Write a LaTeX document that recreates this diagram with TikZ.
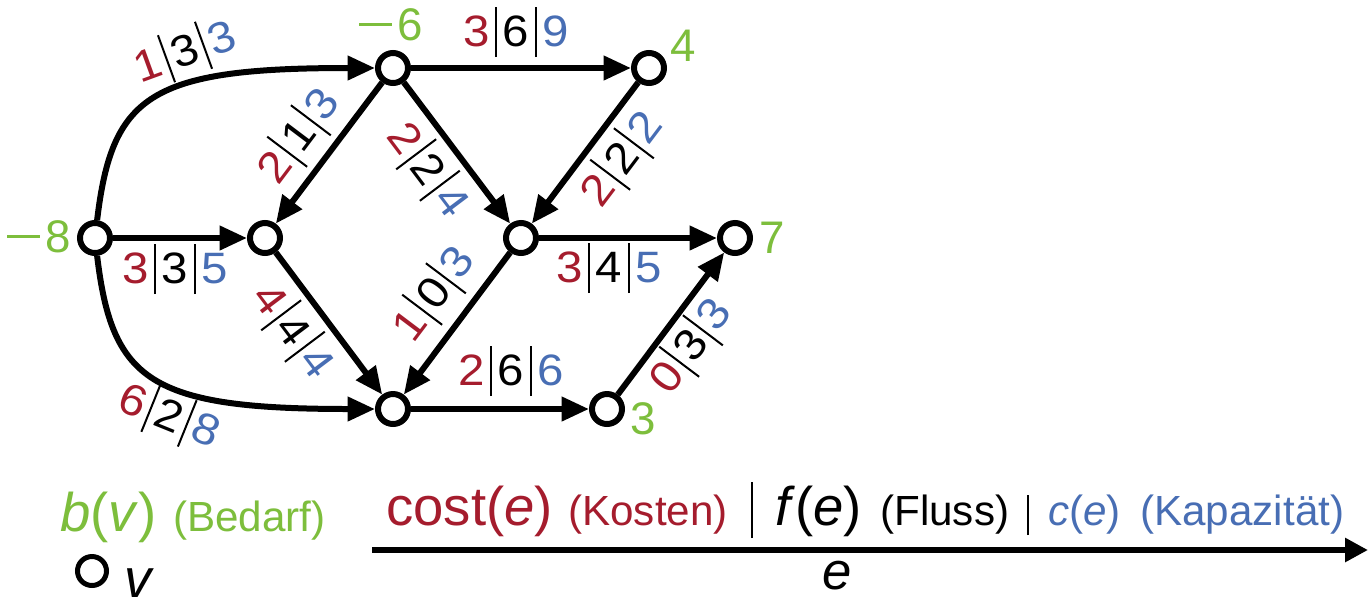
\documentclass[tikz,border=0pt]{standalone}
\usepackage{fontspec}
\setmainfont{Liberation Sans}
\newfontfamily\lf[FakeStretch=1.08]{Liberation Sans}
\usetikzlibrary{arrows.meta}
\definecolor{cred}{RGB}{165,28,45}
\definecolor{cgreen}{RGB}{125,190,60}
\definecolor{cblue}{RGB}{72,110,180}
\newcommand{\sepbar}{\kern0.11cm\rule[-0.22cm]{0.04cm}{1.0cm}\kern0.11cm}
\newcommand{\elab}[3]{{\color{cred}#1}\sepbar #2\sepbar{\color{cblue}#3}}
\newcommand{\mns}{\rule[0.33em]{0.72em}{0.065em}\kern0.12em}
\begin{document}
\begin{tikzpicture}[x=0.02cm,y=-0.02cm,
 vtx/.style={circle,draw,line width=0.12cm,fill=white,minimum size=0.6cm,inner sep=0pt},
 arc/.style={line width=0.12cm,-{Triangle[length=0.55cm,width=0.47cm]}},
 elabel/.style={font=\lf\fontsize{25}{29}\selectfont,inner sep=0pt},
 dem/.style={text=cgreen,font=\fontsize{26}{30}\selectfont,inner sep=0pt},
 bigtxt/.style={font=\fontsize{31}{36}\selectfont,inner sep=0pt,anchor=base west},
 smtxt/.style={font=\fontsize{24}{28}\selectfont,inner sep=0pt,anchor=base west}]
\fill[white] (0,0) rectangle (1368,596);
\useasboundingbox (0,0) rectangle (1368,596);
% vertices
\node[vtx] (s) at (95,238) {};
\node[vtx] (a) at (393,68) {};
\node[vtx] (d) at (649,68) {};
\node[vtx] (b) at (265,238) {};
\node[vtx] (c) at (521,238) {};
\node[vtx] (t) at (735,238) {};
\node[vtx] (f) at (393,409) {};
\node[vtx] (g) at (607,409) {};
% edges
\draw[arc] (s) .. controls (112,95) and (150,68) .. (a);
\draw[arc] (s) -- (b);
\draw[arc] (s) .. controls (112,381) and (150,409) .. (f);
\draw[arc] (a) -- (d);
\draw[arc] (a) -- (b);
\draw[arc] (a) -- (c);
\draw[arc] (d) -- (c);
\draw[arc] (b) -- (f);
\draw[arc] (c) -- (t);
\draw[arc] (c) -- (f);
\draw[arc] (f) -- (g);
\draw[arc] (g) -- (t);
% edge labels
\node[elabel,rotate=20] (lsa) at (185,52) {\elab{1}{3}{3}};
\node[elabel,rotate=53] (lab) at (299,136) {\elab{2}{1}{3}};
\node[elabel] (lsb) at (175,269) {\elab{3}{3}{5}};
\node[elabel] (lad) at (516,32) {\elab{3}{6}{9}};
\node[elabel,rotate=-53] (lac) at (428,170) {\elab{2}{2}{4}};
\node[elabel,rotate=53] (ldc) at (622,159) {\elab{2}{2}{2}};
\node[elabel] (lct) at (609,268) {\elab{3}{4}{5}};
\node[elabel,rotate=-53] (lbf) at (293,331) {\elab{4}{4}{4}};
\node[elabel,rotate=53] (lcf) at (434,294) {\elab{1}{0}{3}};
\node[elabel] (lfg) at (511,371) {\elab{2}{6}{6}};
\node[elabel,rotate=53] (lgt) at (691,346) {\elab{0}{3}{3}};
\node[elabel,rotate=-22] (lsf) at (169,416) {\elab{6}{2}{8}};
% demands
\node[dem] (da) at (391,25) {\mns 6};
\node[dem] (ds) at (39,237) {\mns 8};
\node[dem] (dd) at (683,46) {4};
\node[dem] (dt) at (772,238) {7};
\node[dem] (dg) at (643,419) {3};
% legend
\node[bigtxt,text=cgreen] (bv) at (60,531) {\textit{b}(\textit{v})};
\node[smtxt,text=cgreen] (bed) at (173,531) {(Bedarf)};
\node[circle,draw,line width=0.1cm,minimum size=0.58cm,inner sep=0pt] (lv) at (92,571) {};
\node[bigtxt] (vv) at (124,597) {\textit{v}};
\node[bigtxt,text=cred] (cost) at (386,525) {cost(\textit{e})};
\node[smtxt,text=cred] (kos) at (568,525) {(Kosten)};
\node[inner sep=0pt] (bar1) at (752,510) {\rule{0.04cm}{1.12cm}};
\node[bigtxt] (fe) at (775,525) {\textit{f}(\textit{e})};
\node[smtxt] (flu) at (880,525) {(Fluss)};
\node[inner sep=0pt] (bar2) at (1028,515) {\rule{0.04cm}{0.8cm}};
\node[smtxt,text=cblue] (ce) at (1048,525) {\textit{c}(\textit{e})};
\node[smtxt,text=cblue] (kap) at (1140,525) {(Kapazität)};
\coordinate (l0) at (372,550);
\coordinate (l1) at (1368,550);
\draw[line width=0.12cm,-{Triangle[length=0.46cm,width=0.46cm]}] (l0) -- (l1);
\node[font=\fontsize{30}{34}\selectfont\itshape,inner sep=0pt] (le) at (837,576) {e};
\end{tikzpicture}
\end{document}
